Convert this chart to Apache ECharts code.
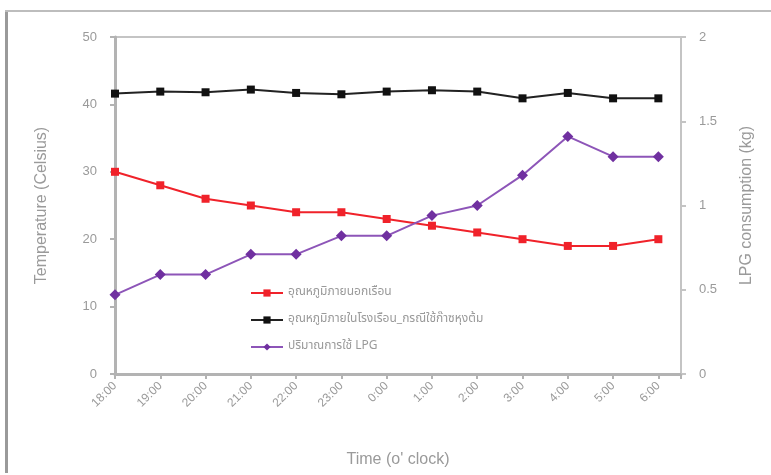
<!DOCTYPE html>
<html>
<head>
<meta charset="utf-8">
<script src="https://cdn.jsdelivr.net/npm/echarts@6/dist/echarts.min.js"></script>
<style>
  html, body { margin: 0; padding: 0; background: #fff; }
  #chart { width: 771px; height: 475px; }
</style>
</head>
<body>
<div id="chart"></div>
<script>
// Hourly readings, evening to morning
const timeLabels = ['18:00', '19:00', '20:00', '21:00', '22:00', '23:00', '0:00', '1:00', '2:00', '3:00', '4:00', '5:00', '6:00'];
const outsideTemp = [30, 28, 26, 25, 24, 24, 23, 22, 21, 20, 19, 19, 20];
const insideTemp = [41.6, 41.9, 41.8, 42.2, 41.7, 41.5, 41.9, 42.1, 41.9, 40.9, 41.7, 40.9, 40.9];
const lpgUsed = [0.47, 0.59, 0.59, 0.71, 0.71, 0.82, 0.82, 0.94, 1.0, 1.18, 1.41, 1.29, 1.29];

const seriesNames = ['อุณหภูมิภายนอกเรือน', 'อุณหภูมิภายในโรงเรือน_กรณีใช้ก๊าซหุงต้ม', 'ปริมาณการใช้ LPG'];

const pairs = arr => arr.map((v, i) => [i, v]);
const grey = '#9a9a9a';
const thaiFont = '"Noto Sans Thai", "Noto Sans", "DejaVu Sans", sans-serif';

const chart = echarts.init(document.getElementById('chart'));
chart.setOption({
  animation: false,
  backgroundColor: '#fff',
  textStyle: { fontFamily: 'Arial, "Liberation Sans", sans-serif' },
  grid: {
    left: 115, right: 90, top: 37, bottom: 101,
    show: true, borderColor: '#c4c4c4', borderWidth: 2, backgroundColor: '#fff'
  },
  legend: {
    orient: 'vertical',
    left: 245, top: 282,
    itemWidth: 32, itemHeight: 9, itemGap: 15,
    textStyle: { color: grey, fontSize: 12, fontFamily: thaiFont },
    data: seriesNames
  },
  xAxis: {
    type: 'value',
    min: 0, max: 12.5, interval: 1,
    name: "Time (o' clock)",
    nameLocation: 'middle', nameGap: 78,
    nameTextStyle: { color: grey, fontSize: 16 },
    axisLine: { lineStyle: { color: '#b3b3b3', width: 3 } },
    axisTick: { show: true, length: 5, lineStyle: { color: '#b3b3b3', width: 2 } },
    splitLine: { show: false },
    axisLabel: {
      color: grey, fontSize: 12, rotate: 45, margin: 10,
      formatter: v => (Number.isInteger(v) && timeLabels[v]) ? timeLabels[v] : ''
    }
  },
  yAxis: [
    {
      type: 'value', min: 0, max: 50, interval: 10,
      name: 'Temperature (Celsius)',
      nameLocation: 'middle', nameGap: 65,
      nameTextStyle: { color: grey, fontSize: 16 },
      axisLine: { show: true, lineStyle: { color: '#b3b3b3', width: 3 } },
      axisTick: { show: true, length: 5, lineStyle: { color: '#b3b3b3', width: 2 } },
      splitLine: { show: false },
      axisLabel: { color: grey, fontSize: 13, margin: 18 }
    },
    {
      type: 'value', min: 0, max: 2, interval: 0.5,
      name: 'LPG consumption (kg)',
      nameLocation: 'middle', nameGap: 58,
      nameTextStyle: { color: grey, fontSize: 16 },
      axisLine: { show: true, lineStyle: { color: '#c4c4c4', width: 2 } },
      axisTick: { show: true, length: 5, lineStyle: { color: '#c4c4c4', width: 2 } },
      splitLine: { show: false },
      axisLabel: { color: grey, fontSize: 13, margin: 18 }
    }
  ],
  series: [
    {
      name: seriesNames[0], type: 'line', yAxisIndex: 0,
      data: pairs(outsideTemp),
      symbol: 'rect', symbolSize: 8,
      itemStyle: { color: '#f0222a' },
      lineStyle: { color: '#f0222a', width: 2 }
    },
    {
      name: seriesNames[1], type: 'line', yAxisIndex: 0,
      data: pairs(insideTemp),
      symbol: 'rect', symbolSize: 8,
      itemStyle: { color: '#111' },
      lineStyle: { color: '#222', width: 2 }
    },
    {
      name: seriesNames[2], type: 'line', yAxisIndex: 1,
      data: pairs(lpgUsed),
      symbol: 'diamond', symbolSize: 11,
      itemStyle: { color: '#7030a0' },
      lineStyle: { color: '#8d55b8', width: 2 }
    }
  ],
  graphic: [
    { type: 'rect', shape: { x: 5, y: 10, width: 3, height: 463 }, style: { fill: '#9a9a9a' }, silent: true },
    { type: 'rect', shape: { x: 5, y: 10, width: 766, height: 2 }, style: { fill: '#bdbdbd' }, silent: true }
  ]
});
</script>
</body>
</html>
